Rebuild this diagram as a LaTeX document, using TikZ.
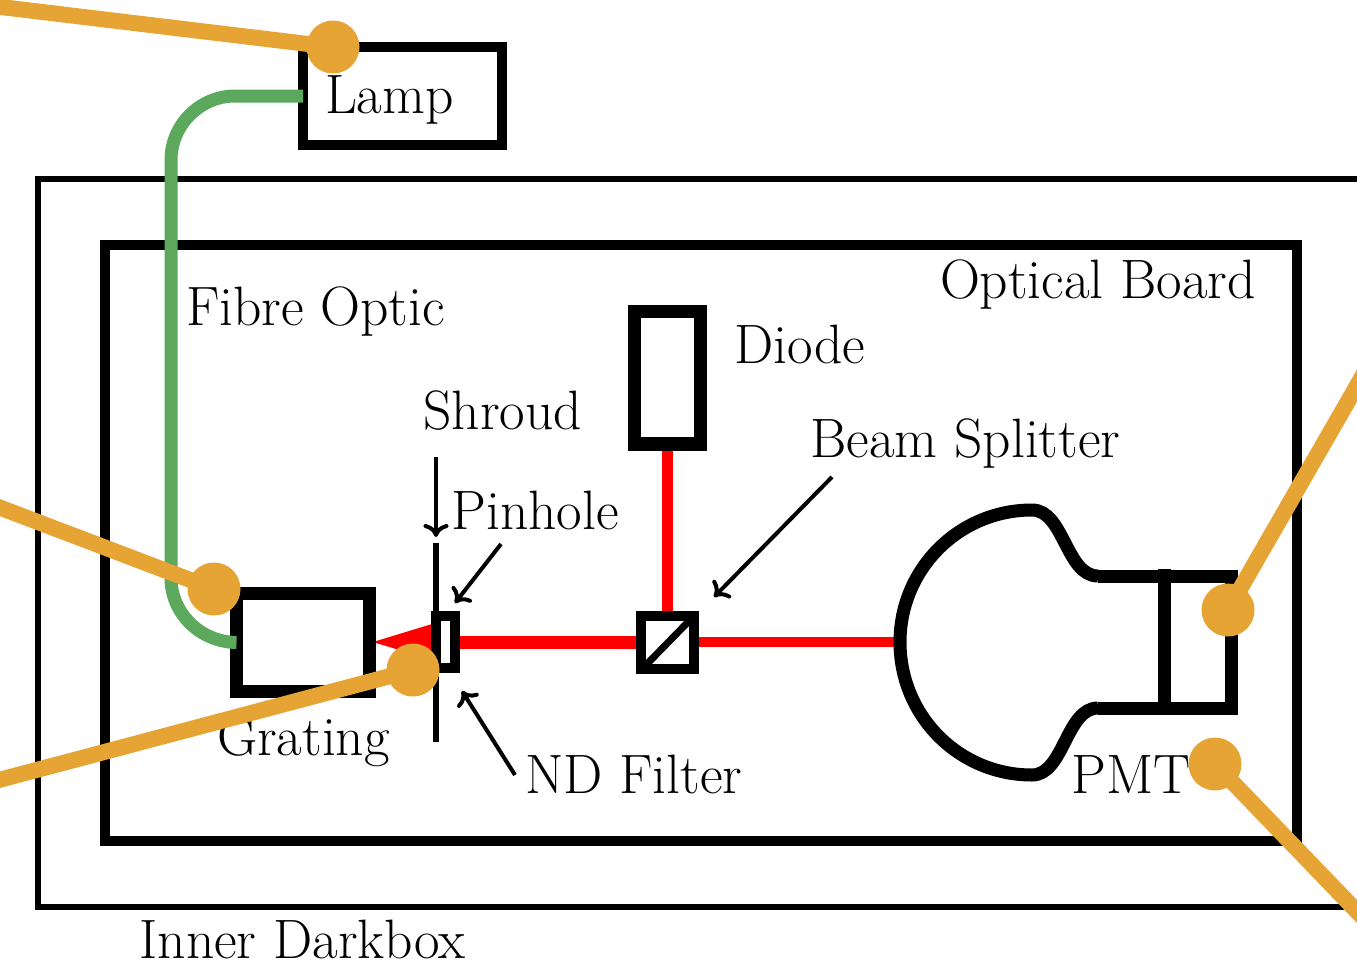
\documentclass[tikz,border=0pt]{standalone}
\usetikzlibrary{arrows.meta}
\definecolor{fibre}{HTML}{5CA85C}
\definecolor{cable}{HTML}{E6A435}
\tikzset{
  x=1pt,y=-1pt,
  box/.style={draw=black,rectangle,inner sep=0pt,outer sep=0pt,line width=#1,line join=miter},
  lab/.style={anchor=base west,inner sep=0pt,outer sep=0pt,font=\fontsize{55.5}{60}\selectfont,text=black},
  fibreline/.style={draw=fibre,line width=13pt},
  cableline/.style={draw=cable,line width=16pt},
  dot/.style={circle,fill=cable,inner sep=0pt,outer sep=0pt,minimum size=53pt},
  beam/.style={draw=red,line width=#1},
  note/.style={draw=black,line width=4pt,-{Computer Modern Rightarrow[length=13pt,width=25pt,line width=4pt]}},
  pmtline/.style={draw=black,line width=13pt}
}
\begin{document}
\begin{tikzpicture}
\path[use as bounding box,clip] (0,0) rectangle (1357,966);
% enclosures
\node[box=6pt,minimum width=1362pt,minimum height=728pt] (darkbox) at (719,543) {};
\node[box=10pt,minimum width=1192pt,minimum height=596pt] (board) at (701,543) {};
% coordinates of the beams
\coordinate (tip) at (373,642);
\coordinate (triA) at (432,624);
\coordinate (triB) at (432,660);
\coordinate (pmtL) at (900,642);
\coordinate (filterE) at (455,642.5);
\coordinate (splitW) at (645,642.5);
\coordinate (splitE) at (690,642);
\coordinate (splitN) at (667.4,616);
\coordinate (diodeS) at (667.4,443);
% red beam, under the parts
\fill[red] (tip) -- (triA) -- (triB) -- cycle;
\draw[beam=13pt] (filterE) -- (splitW);
\draw[beam=10.5pt] (splitE) -- (pmtL);
\draw[beam=10.7pt] (splitN) -- (diodeS);
% components
\node[box=10pt,minimum width=199pt,minimum height=98pt] (lamp) at (402.5,96) {};
\node[box=13pt,minimum width=133pt,minimum height=98pt] (grating) at (303,642.5) {};
\node[box=13.5pt,minimum width=66pt,minimum height=132.5pt] (diode) at (667.5,377.5) {};
\node[box=10pt,minimum width=19pt,minimum height=52pt] (filter) at (445.5,642) {};
\node[box=10pt,minimum width=53pt,minimum height=53pt] (split) at (667.5,642.5) {};
\coordinate (shrTop) at (436,543);
\coordinate (shrBot) at (436,742);
\draw[black,line width=6pt] (shrTop) -- (shrBot);
\coordinate (diagA) at (646,665);
\coordinate (diagB) at (690,620);
\draw[black,line width=7pt] (diagA) -- (diagB);
% PMT
\coordinate (pmtTop) at (1032,510);
\coordinate (pmtBot) at (1032,775);
\coordinate (neckT) at (1098,576);
\coordinate (neckB) at (1098,708);
\coordinate (cornT) at (1231,576);
\coordinate (cornB) at (1231,708);
\coordinate (wallT) at (1164,569);
\coordinate (wallB) at (1164,715);
\draw[pmtline,line join=miter] (neckT) .. controls (1066,576) and (1064,510) .. (pmtTop)
  .. controls (959,510) and (900,569) .. (pmtL)
  .. controls (900,716) and (959,775) .. (pmtBot)
  .. controls (1064,775) and (1066,708) .. (neckB);
\draw[pmtline,line join=miter] (neckT) -- (cornT) -- (cornB) -- (neckB);
\draw[pmtline] (wallT) -- (wallB);
% labels
\node[lab] (tLamp) at (325,113.5) {Lamp};
\node[lab] (tFibre) at (186,325.5) {Fibre Optic};
\node[lab] (tShroud) at (423.5,429.5) {Shroud};
\node[lab] (tPinhole) at (451.5,529) {Pinhole};
\node[lab] (tDiode) at (734.5,363.5) {Diode};
\node[lab] (tBoard) at (940,298.5) {Optical Board};
\node[lab] (tBeam) at (810.5,457.5) {Beam Splitter};
\node[lab] (tND) at (525,793.5) {ND Filter};
\node[lab] (tGrating) at (217,755.5) {Grating};
\node[lab] (tPMT) at (1071.5,793) {PMT};
\node[lab] (tBox) at (139.5,958.5) {Inner Darkbox};
% pointers
\coordinate (aShroud) at (436,457);
\coordinate (bShroud) at (436,537);
\coordinate (aPin) at (501,544);
\coordinate (bPin) at (455,603);
\coordinate (aBeam) at (832,477);
\coordinate (bBeam) at (714,597);
\coordinate (aND) at (515,775);
\coordinate (bND) at (462,691);
\draw[note] (aShroud) -- (bShroud);
\draw[note] (aPin) -- (bPin);
\draw[note] (aBeam) -- (bBeam);
\draw[note] (aND) -- (bND);
% fibre
\draw[fibreline] (lamp.west) -- (235,96) .. controls (200,96) and (171,125) .. (171,160)
  -- (171,578) .. controls (171,613) and (200,642) .. (grating.west);
% cables
\coordinate (c1) at (-20,4.5);
\coordinate (c2) at (-20,500);
\coordinate (c3) at (-20,785);
\coordinate (c4) at (1370,363);
\coordinate (c5) at (1370,925);
\node[dot] (d1) at (333,47) {};
\node[dot] (d2) at (214,589) {};
\node[dot] (d3) at (413,670) {};
\node[dot] (d4) at (1228,610) {};
\node[dot] (d5) at (1215,764) {};
\draw[cableline] (c1) -- (d1.center);
\draw[cableline] (c2) -- (d2.center);
\draw[cableline] (c3) -- (d3.center);
\draw[cableline] (c4) -- (d4.center);
\draw[cableline] (c5) -- (d5.center);
\end{tikzpicture}
\end{document}
